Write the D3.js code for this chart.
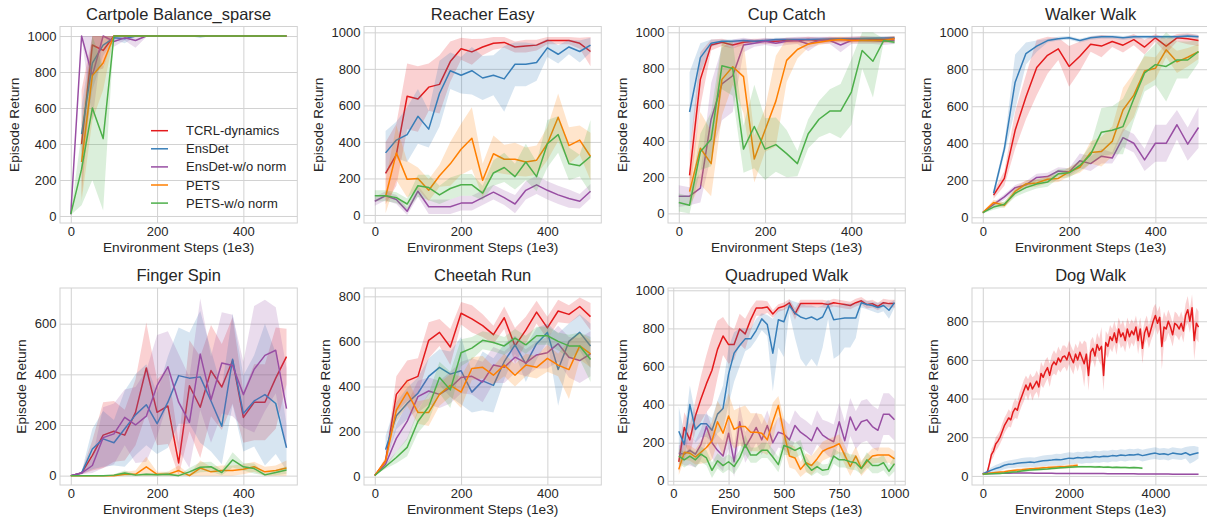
<!DOCTYPE html>
<html>
<head>
<meta charset="utf-8">
<script src="https://cdn.jsdelivr.net/npm/d3@7"></script>
<style>
  body { margin: 0; background: #ffffff; }
  text { font-family: "Liberation Sans", Arial, sans-serif; fill: #262626; }
</style>
</head>
<body>
<svg id="chart" width="1207" height="518"></svg>
<script>
// ---- methods (legend order) ----
const methods = ["TCRL-dynamics", "EnsDet", "EnsDet-w/o norm", "PETS", "PETS-w/o norm"];
const methodColors = ["#e41a1c", "#377eb8", "#984ea3", "#ff7f00", "#4daf4a"];

// ---- evaluation grids (environment steps, 1e3) ----
const steps500 = d3.range(0, 501, 25);
const steps1000 = d3.range(25, 1001, 25);
const dogStepsFine = d3.range(0, 5001, 50);
const dogSteps = d3.range(0, 5001, 100);
const dogStepsPETS = d3.range(0, 2201, 100);
const dogStepsPETSNoNorm = d3.range(0, 3701, 100);

// ---- Cartpole Balance_sparse ----
const cartpoleTCRL = [null,400,950,920,1000,1000,1000,1000,1000,1000,1000,1000,1000,1000,1000,1000,1000,1000,1000,1000,1000];
const cartpoleTCRLSd = [null,300,150,100,0,0,0,0,0,0,0,0,0,0,0,0,0,0,0,0,0];
const cartpoleEnsDet = [null,455,850,950,990,985,1000,1000,1000,1000,1000,1000,998,1000,1000,1000,1000,1000,1000,1000,1000];
const cartpoleEnsDetSd = [null,150,150,60,10,25,5,0,0,0,0,0,5,0,0,0,0,0,0,0,0];
const cartpoleEnsDetNoNorm = [10,1000,780,1000,970,990,975,1000,1000,1000,1000,1000,1000,1000,1000,1000,1000,1000,1000,1000,1000];
const cartpoleEnsDetNoNormSd = [5,0,250,0,30,15,40,5,0,0,0,0,0,0,0,0,0,0,0,0,0];
const cartpolePETS = [null,300,780,850,1000,1000,1000,1000,1000,1000,1000,1000,1000,1000,1000,1000,1000,1000,1000,1000,1000];
const cartpolePETSSd = [null,220,250,150,0,0,0,0,0,0,0,0,0,0,0,0,0,0,0,0,0];
const cartpolePETSNoNorm = [10,260,600,430,1000,1000,1000,1000,1000,1000,1000,1000,1000,1000,1000,1000,1000,1000,1000,1000,1000];
const cartpolePETSNoNormSd = [5,200,400,400,0,0,0,0,0,0,0,0,0,0,0,0,0,0,0,0,0];

// ---- Reacher Easy ----
const reacherTCRL = [null,228,330,650,635,700,715,840,910,893,920,940,945,920,925,930,955,955,955,940,895];
const reacherTCRLSd = [null,170,170,180,180,130,160,110,60,70,45,35,30,30,35,30,20,20,20,30,80];
const reacherEnsDet = [null,340,410,440,540,470,665,790,765,790,750,765,745,825,825,835,915,880,920,895,930];
const reacherEnsDetSd = [null,120,100,150,150,100,180,100,100,130,120,110,180,120,120,100,50,50,40,60,40];
const reacherEnsDetNoNorm = [75,105,85,20,130,45,45,45,65,65,95,125,95,60,135,165,135,110,90,75,130];
const reacherEnsDetNoNormSd = [25,25,25,20,30,40,40,40,40,40,40,40,40,50,50,50,50,50,50,40,40];
const reacherPETS = [null,100,340,195,200,135,215,280,360,420,190,335,305,305,290,300,390,535,380,410,320];
const reacherPETSSd = [null,90,150,100,60,60,60,120,140,170,90,100,80,90,80,80,90,130,100,80,130];
const reacherPETSNoNorm = [105,105,95,60,160,150,110,145,165,165,120,230,260,210,290,210,390,440,280,270,320];
const reacherPETSNoNormSd = [30,30,30,30,60,70,50,60,60,60,40,70,80,70,100,80,130,100,90,60,200];

// ---- Cup Catch ----
const cupTCRL = [null,210,740,930,945,930,945,950,950,950,955,955,960,955,960,960,960,965,960,960,965];
const cupTCRLSd = [null,120,150,30,20,20,15,15,15,15,15,15,15,15,15,15,15,15,15,15,15];
const cupEnsDet = [null,560,860,940,950,950,955,950,955,960,960,960,960,962,963,964,965,966,967,968,970];
const cupEnsDetSd = [null,220,80,20,10,10,10,10,10,10,10,10,10,10,10,10,10,10,10,10,10];
const cupEnsDetNoNorm = [95,95,140,520,715,760,930,940,950,940,950,955,935,955,955,930,955,955,955,950,955];
const cupEnsDetNoNormSd = [60,50,80,200,200,200,40,20,20,20,20,20,40,20,20,40,20,20,20,20,20];
const cupPETS = [null,120,360,275,740,810,755,300,460,620,845,905,935,945,955,960,955,955,955,955,965];
const cupPETSSd = [null,80,200,180,200,100,200,130,120,250,120,50,20,15,15,15,15,15,15,15,15];
const cupPETSNoNorm = [60,45,340,410,815,800,355,480,355,380,330,275,440,520,565,565,670,900,840,955,945];
const cupPETSNoNormSd = [50,50,100,150,130,150,130,230,170,150,130,70,80,100,120,150,180,100,200,10,10];

// ---- Walker Walk ----
const walkerTCRL = [null,120,210,470,650,810,875,910,815,870,935,925,950,930,960,920,970,925,970,965,955];
const walkerTCRLSd = [null,20,40,100,120,150,100,60,110,80,40,60,30,40,30,40,20,40,20,30,30];
const walkerEnsDet = [null,130,370,730,885,925,955,965,970,955,970,975,975,970,975,975,975,975,975,980,975];
const walkerEnsDetSd = [null,20,30,150,60,30,10,10,10,10,10,10,10,10,10,10,10,10,10,10,10];
const walkerEnsDetNoNorm = [25,70,110,160,175,215,220,250,245,305,290,330,320,430,400,310,400,400,500,395,485];
const walkerEnsDetNoNormSd = [5,10,15,15,20,20,20,20,20,40,40,40,30,50,50,60,100,100,80,90,110];
const walkerPETS = [25,80,65,140,180,185,205,210,245,270,350,355,410,580,660,790,805,905,840,865,895];
const walkerPETSSd = [5,15,15,20,20,20,20,20,25,30,60,80,80,120,120,80,60,40,60,50,40];
const walkerPETSNoNorm = [25,55,70,130,160,180,190,235,240,280,340,460,470,490,640,780,825,815,850,850,895];
const walkerPETSNoNormSd = [5,15,15,20,25,25,25,25,25,30,50,130,130,150,120,100,110,190,100,100,60];

// ---- Finger Spin ----
const fingerTCRL = [0,10,80,160,175,160,250,425,250,275,50,355,270,415,350,455,230,290,290,385,470];
const fingerTCRLSd = [0,5,60,130,120,100,130,180,130,150,80,180,200,180,170,170,100,150,150,200,110];
const fingerEnsDet = [0,10,105,145,130,185,240,280,205,290,395,385,390,295,195,460,245,295,320,285,110];
const fingerEnsDetSd = [0,5,80,110,90,150,160,160,120,180,190,180,260,200,150,180,150,180,280,200,90];
const fingerEnsDetNoNorm = [0,10,40,150,165,230,200,235,355,430,290,210,480,300,445,435,320,420,475,495,265];
const fingerEnsDetNoNormSd = [0,5,30,120,120,110,150,180,200,140,190,180,220,170,200,200,130,250,220,170,160];
const fingerPETS = [0,0,0,0,0,5,5,35,5,5,20,0,30,15,20,20,25,35,15,20,30];
const fingerPETSSd = [0,0,0,0,5,10,15,40,10,10,20,5,30,20,20,20,20,20,20,20,30];
const fingerPETSNoNorm = [0,0,0,0,2,10,2,5,3,5,0,15,33,35,12,62,35,28,3,12,22];
const fingerPETSNoNormSd = [0,0,0,0,3,10,3,5,5,10,3,15,20,20,10,30,15,20,5,10,15];

// ---- Cheetah Run ----
const cheetahTCRL = [5,70,365,425,445,605,640,575,725,700,670,630,705,580,650,730,660,735,720,755,710];
const cheetahTCRLSd = [0,15,80,90,80,80,60,80,50,60,50,40,50,80,60,50,50,50,40,40,60];
const cheetahEnsDet = [null,120,270,325,370,445,485,455,470,375,425,405,510,585,500,590,640,475,600,640,580];
const cheetahEnsDetSd = [null,60,60,70,70,80,80,100,150,90,130,120,80,40,80,70,40,160,80,80,100];
const cheetahEnsDetNoNorm = [5,55,170,245,355,380,365,395,440,445,420,495,485,530,505,540,550,590,530,515,545];
const cheetahEnsDetNoNormSd = [0,15,60,80,70,60,60,70,70,80,90,80,70,70,60,60,70,80,90,100,100];
const cheetahPETS = [5,70,295,375,285,285,365,405,375,480,485,450,495,450,495,485,525,495,475,580,545];
const cheetahPETSSd = [0,15,50,60,50,60,50,50,70,50,50,40,50,50,50,50,60,50,130,60,60];
const cheetahPETSNoNorm = [5,45,85,130,245,310,440,385,550,570,605,595,580,615,585,625,625,600,580,580,520];
const cheetahPETSNoNormSd = [0,10,25,40,50,60,70,80,60,50,40,40,40,40,40,40,40,40,50,60,100];

// ---- Quadruped Walk (25k .. 1000k) ----
const quadTCRL = [100,280,215,340,430, 510,580,690,760,715, 715,797,771,846,907, 907,912,876,907,916, 934,876,930,930,930, 930,930,925,935,930, 925,920,935,945,925, 930,915,935,930,930];
const quadTCRLSd = [50,80,80,80,120, 150,180,150,100,100, 80,80,80,60,40, 40,30,20,20,20, 20,30,20,20,20, 20,20,20,20,20, 20,20,20,20,20, 20,20,20,20,20];
const quadEnsDet = [260,190,400,270,300, 300,265,350,380,560, 670,710,745,745,790, 850,820,670,845,835, 920,880,860,850,860, 845,860,920,845,850, 855,855,855,935,925, 920,910,920,895,935];
// EnsDet band is skewed downward, so its bounds are kept separately
const quadEnsDetLo = [130,100,280,200,230, 230,200,250,270,400, 520,600,680,700,740, 790,760,470,700,650, 880,750,640,600,640, 600,700,850,640,660, 700,700,750,910,900, 890,880,890,850,910];
const quadEnsDetHi = [390,250,500,350,350, 350,330,420,500,700, 780,800,800,800,850, 880,870,850,900,900, 950,940,930,920,920, 910,920,950,920,920, 930,930,930,950,945, 940,935,940,930,950];
const quadEnsDetNoNorm = [145,140,160,140,190, 285,200,160,130,250, 100,310,175,225,280, 215,290,200,255,245, 215,290,255,235,210, 280,240,220,205,310, 210,335,265,310,320, 285,265,350,350,320];
const quadEnsDetNoNormSd = [40,60,80,70,80, 80,80,80,80,80, 80,90,80,80,80, 80,80,80,80,80, 80,80,80,80,80, 90,80,90,90,100, 100,100,100,110,110, 110,110,110,110,110];
const quadPETS = [60,150,145,125,150, 175,210,310,250,340, 270,285,285,255,255, 250,215,310,395,250, 130,120,60,95,80, 115,155,170,180,195, 135,75,130,65,100, 130,135,135,135,115];
const quadPETSSd = [30,40,40,40,60, 80,100,110,120,120, 100,100,110,100,100, 100,80,100,50,80, 60,60,40,50,50, 50,50,50,50,50, 50,50,50,40,40, 40,40,40,40,40];
const quadPETSNoNorm = [130,110,130,110,140, 120,55,105,80,100, 75,120,190,135,135, 160,160,125,85,185, 175,160,175,90,55, 75,55,60,130,110, 110,100,95,65,110, 80,80,95,50,90];
const quadPETSNoNormSd = [40,40,40,40,40, 40,40,40,40,40, 40,40,50,40,40, 40,40,40,40,50, 40,40,40,40,30, 30,30,30,40,40, 40,40,40,30,40, 40,40,40,30,40];

// ---- Dog Walk (0 .. 5000k) ----
const dogTCRL = [10,12,15,60,110,130,165,180,200,230,260,
  280,300,290,330,350,340,380,410,440,470,
  445,480,450,470,490,460,530,510,540,560,
  520,570,590,575,610,590,615,620,600,640,
  610,585,630,600,640,610,580,630,520,640,
  660,620,680,650,670,520,690,670,720,700,
  740,690,760,720,740,700,760,720,750,730,
  770,700,760,660,740,770,720,760,800,830,
  790,820,670,770,760,800,770,730,790,780,
  760,790,750,830,860,800,870,700,790,770];
const dogTCRLSd = [3,5,10,20,30,30,35,35,35,40,40,
  40,45,40,45,50,45,50,50,55,50,
  55,50,60,50,55,60,60,55,60,55,
  60,55,60,55,60,55,60,55,60,60,
  60,60,55,60,60,70,120,60,80,60,
  60,60,60,60,100,80,60,60,60,60,
  60,65,60,60,65,60,60,65,60,60,
  60,70,60,80,60,60,60,60,70,60,
  60,60,120,80,60,60,60,60,60,60,
  60,60,60,60,70,60,70,100,80,80];
const dogEnsDet = [10,20,30,38,45,55,60,62,65,68,70,72,70,75,78,80,82,85,83,88,92,90,95,93,97,95,100,98,102,100,105,103,108,105,110,108,112,105,110,115,118,112,115,110,118,115,112,120,108,115,120];
const dogEnsDetSd = [5,10,15,18,20,20,20,22,22,25,25,25,25,25,28,28,28,30,30,30,30,30,30,30,30,30,30,30,30,30,30,30,30,30,30,30,30,30,30,30,30,30,30,30,30,30,30,30,45,40,30];
const dogEnsDetNoNorm = [12,12,13,13,14,14,14,15,15,15,15,15,14,14,14,14,14,13,13,13,13,13,13,12,12,12,12,12,12,11,11,11,11,11,11,11,10,10,10,10,10,10,10,10,9,9,9,9,9,9,9];
const dogEnsDetNoNormSd = [3,3,3,3,3,3,3,3,3,3,3,3,3,3,3,3,3,3,3,3,3,3,3,3,3,3,3,3,3,3,3,3,3,3,3,3,3,3,3,3,3,3,3,3,3,3,3,3,3,3,3];
const dogPETS = [10,12,15,18,20,22,25,28,30,32,35,37,38,40,42,43,45,46,47,48,50,52,55];
const dogPETSSd = [3,4,5,5,6,6,7,7,8,8,8,8,8,9,9,9,9,9,10,10,10,10,10];
const dogPETSNoNorm = [10,10,11,12,13,15,18,20,22,25,28,30,32,33,35,36,38,40,42,43,45,46,47,48,47,48,46,47,45,46,44,45,43,44,42,43,42,40];
const dogPETSNoNormSd = [3,3,3,4,4,4,5,5,5,6,6,6,6,6,6,6,6,6,6,6,6,6,6,6,6,6,6,6,6,6,6,6,6,6,6,6,6,6];

// ---- axis ticks ----
const ticks0to1000 = [0, 200, 400, 600, 800, 1000];
const ticks0to800 = [0, 200, 400, 600, 800];
const ticks0to600 = [0, 200, 400, 600];
const stepTicks500 = [0, 200, 400];
const stepTicks1000 = [0, 250, 500, 750, 1000];
const stepTicksDog = [0, 2000, 4000];

// series entry: [steps, mean, spread] or [steps, mean, null, lower, upper]
const panels = [
  { title: "Cartpole Balance_sparse", xDomain: [-25, 525], yDomain: [-39, 1053], xTicks: stepTicks500, yTicks: ticks0to1000, legend: true,
    series: [[steps500, cartpoleTCRL, cartpoleTCRLSd], [steps500, cartpoleEnsDet, cartpoleEnsDetSd], [steps500, cartpoleEnsDetNoNorm, cartpoleEnsDetNoNormSd], [steps500, cartpolePETS, cartpolePETSSd], [steps500, cartpolePETSNoNorm, cartpolePETSNoNormSd]] },
  { title: "Reacher Easy", xDomain: [-25, 525], yDomain: [-44, 1032], xTicks: stepTicks500, yTicks: ticks0to1000,
    series: [[steps500, reacherTCRL, reacherTCRLSd], [steps500, reacherEnsDet, reacherEnsDetSd], [steps500, reacherEnsDetNoNorm, reacherEnsDetNoNormSd], [steps500, reacherPETS, reacherPETSSd], [steps500, reacherPETSNoNorm, reacherPETSNoNormSd]] },
  { title: "Cup Catch", xDomain: [-25, 525], yDomain: [-53, 1032], xTicks: stepTicks500, yTicks: ticks0to1000,
    series: [[steps500, cupTCRL, cupTCRLSd], [steps500, cupEnsDet, cupEnsDetSd], [steps500, cupEnsDetNoNorm, cupEnsDetNoNormSd], [steps500, cupPETS, cupPETSSd], [steps500, cupPETSNoNorm, cupPETSNoNormSd]] },
  { title: "Walker Walk", xDomain: [-25, 525], yDomain: [-31, 1031], xTicks: stepTicks500, yTicks: ticks0to1000,
    series: [[steps500, walkerTCRL, walkerTCRLSd], [steps500, walkerEnsDet, walkerEnsDetSd], [steps500, walkerEnsDetNoNorm, walkerEnsDetNoNormSd], [steps500, walkerPETS, walkerPETSSd], [steps500, walkerPETSNoNorm, walkerPETSNoNormSd]] },
  { title: "Finger Spin", xDomain: [-25, 525], yDomain: [-37, 741], xTicks: stepTicks500, yTicks: ticks0to600,
    series: [[steps500, fingerTCRL, fingerTCRLSd], [steps500, fingerEnsDet, fingerEnsDetSd], [steps500, fingerEnsDetNoNorm, fingerEnsDetNoNormSd], [steps500, fingerPETS, fingerPETSSd], [steps500, fingerPETSNoNorm, fingerPETSNoNormSd]] },
  { title: "Cheetah Run", xDomain: [-25, 525], yDomain: [-37, 837], xTicks: stepTicks500, yTicks: ticks0to800,
    series: [[steps500, cheetahTCRL, cheetahTCRLSd], [steps500, cheetahEnsDet, cheetahEnsDetSd], [steps500, cheetahEnsDetNoNorm, cheetahEnsDetNoNormSd], [steps500, cheetahPETS, cheetahPETSSd], [steps500, cheetahPETSNoNorm, cheetahPETSNoNormSd]] },
  { title: "Quadruped Walk", xDomain: [-23.75, 1048.75], yDomain: [-22, 1012], xTicks: stepTicks1000, yTicks: ticks0to1000,
    series: [[steps1000, quadTCRL, quadTCRLSd], [steps1000, quadEnsDet, null, quadEnsDetLo, quadEnsDetHi], [steps1000, quadEnsDetNoNorm, quadEnsDetNoNormSd], [steps1000, quadPETS, quadPETSSd], [steps1000, quadPETSNoNorm, quadPETSNoNormSd]] },
  { title: "Dog Walk", xDomain: [-250, 5250], yDomain: [-47, 972], xTicks: stepTicksDog, yTicks: ticks0to800,
    series: [[dogStepsFine, dogTCRL, dogTCRLSd], [dogSteps, dogEnsDet, dogEnsDetSd], [dogSteps, dogEnsDetNoNorm, dogEnsDetNoNormSd], [dogStepsPETS, dogPETS, dogPETSSd], [dogStepsPETSNoNorm, dogPETSNoNorm, dogPETSNoNormSd]] }
];

// ---- layout ----
const svg = d3.select("#chart");
const colLeft = [60, 364, 668, 972];
const plotW = 237.3;
const rowTop = [26.5, 288];
const plotH = [196.5, 197];
const gridColor = "#d2d2d2";
const TICK_FS = 13, LABEL_FS = 13.7, TITLE_FS = 16.5;
const MAX_RETURN = 1000;

panels.forEach((p, i) => {
  const col = i % 4, row = Math.floor(i / 4);
  const left = colLeft[col], top = rowTop[row], W = plotW, H = plotH[row];
  const x = d3.scaleLinear().domain(p.xDomain).range([left, left + W]);
  const y = d3.scaleLinear().domain(p.yDomain).range([top + H, top]);
  const g = svg.append("g");

  // grid lines + tick labels
  const ya = g.append("g").attr("transform", `translate(${left},0)`)
    .call(d3.axisLeft(y).tickValues(p.yTicks).tickSize(-W).tickPadding(3.5).tickFormat(d3.format("d")));
  const xa = g.append("g").attr("transform", `translate(0,${top + H})`)
    .call(d3.axisBottom(x).tickValues(p.xTicks).tickSize(-H).tickPadding(3.8).tickFormat(d3.format("d")));
  [ya, xa].forEach(a => {
    a.select(".domain").remove();
    a.selectAll(".tick line").attr("stroke", gridColor).attr("stroke-width", 1);
    a.selectAll(".tick text").style("font-size", TICK_FS + "px").style("font-family", '"Liberation Sans", Arial, sans-serif');
  });

  // frame
  g.append("rect").attr("x", left).attr("y", top).attr("width", W).attr("height", H)
    .attr("fill", "none").attr("stroke", gridColor).attr("stroke-width", 1);

  // clip
  const clipId = "clip" + i;
  svg.append("clipPath").attr("id", clipId).append("rect")
    .attr("x", left).attr("y", top).attr("width", W).attr("height", H);
  const plot = g.append("g").attr("clip-path", `url(#${clipId})`);

  p.series.forEach(([xs, ys, sd, lo, hi], k) => {
    const pts = xs.map((s, j) => ({
      s, m: ys[j],
      lo: lo ? lo[j] : ys[j] - sd[j],
      hi: hi ? hi[j] : ys[j] + sd[j]
    })).filter(d => d.m != null);
    const band = d3.area()
      .x(d => x(d.s))
      .y0(d => y(Math.max(0, d.lo)))
      .y1(d => y(Math.min(MAX_RETURN, d.hi)));
    plot.append("path").datum(pts).attr("d", band)
      .attr("fill", methodColors[k]).attr("fill-opacity", 0.2).attr("stroke", "none");
    const line = d3.line().x(d => x(d.s)).y(d => y(d.m));
    plot.append("path").datum(pts).attr("d", line)
      .attr("fill", "none").attr("stroke", methodColors[k]).attr("stroke-width", 1.5)
      .attr("stroke-linejoin", "round");
  });

  // title
  g.append("text").attr("x", left + W / 2).attr("y", top - 7)
    .attr("text-anchor", "middle").style("font-size", TITLE_FS + "px").text(p.title);

  // x label
  g.append("text").attr("x", left + W / 2).attr("y", top + H + 29)
    .attr("text-anchor", "middle").style("font-size", LABEL_FS + "px").text("Environment Steps (1e3)");

  // y label, placed left of the widest tick label
  let maxW = 0;
  ya.selectAll(".tick text").each(function () { maxW = Math.max(maxW, this.getComputedTextLength()); });
  const lx = left - 3.5 - maxW - 9;
  g.append("text").attr("transform", `translate(${lx},${top + H / 2}) rotate(-90)`)
    .attr("text-anchor", "middle").style("font-size", LABEL_FS + "px").text("Episode Return");

  // legend
  if (p.legend) {
    const lg = g.append("g");
    methods.forEach((name, k) => {
      const cy = 130.7 + k * 18.1;
      lg.append("line").attr("x1", 151).attr("x2", 168).attr("y1", cy).attr("y2", cy)
        .attr("stroke", methodColors[k]).attr("stroke-width", 1.5);
      lg.append("text").attr("x", 186).attr("y", cy).attr("dy", "0.35em")
        .style("font-size", "13px").text(name);
    });
  }
});
</script>
</body>
</html>
